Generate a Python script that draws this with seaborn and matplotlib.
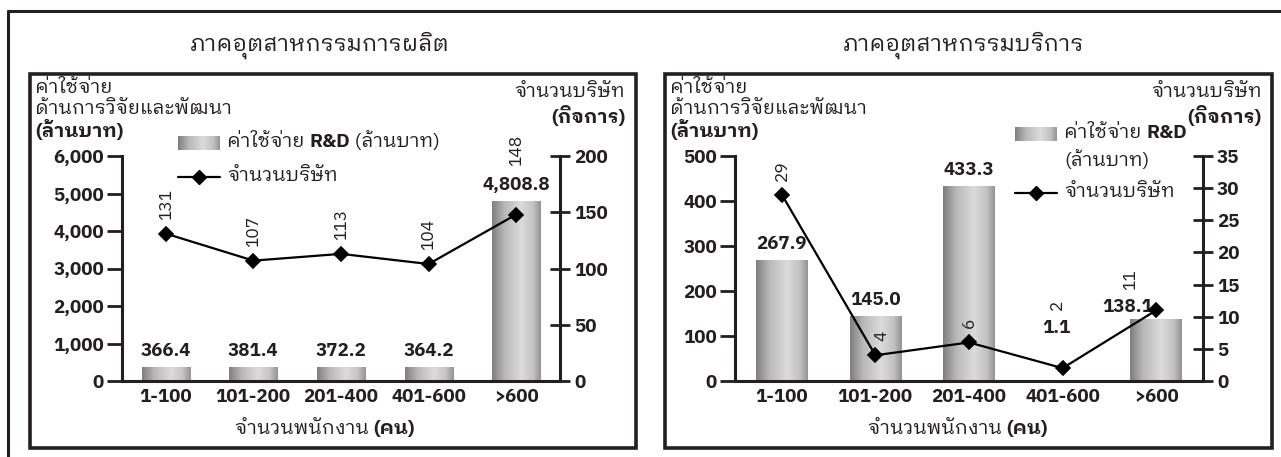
import numpy as np
import matplotlib
matplotlib.use("Agg")
import matplotlib.pyplot as plt
import seaborn as sns
from matplotlib.patches import Rectangle
from matplotlib.lines import Line2D

# ---- data ----
groups = ["1-100", "101-200", "201-400", "401-600", ">600"]
mfg_rd = [366.4, 381.4, 372.2, 364.2, 4808.8]
mfg_firms = [131, 107, 113, 104, 148]
svc_rd = [267.9, 145.0, 433.3, 1.1, 138.1]
svc_firms = [29, 4, 6, 2, 11]

mfg_title = "ภาคอุตสาหกรรมการผลิต"
svc_title = "ภาคอุตสาหกรรมบริการ"
xlabel = "จำนวนพนักงาน"
xlabel_unit = "(คน)"
ylabel_lines = ["ค่าใช้จ่าย", "ด้านการวิจัยและพัฒนา"]
ylabel_unit = "(ล้านบาท)"
y2label = "จำนวนบริษัท"
y2label_unit = "(กิจการ)"
legend_bar = "ค่าใช้จ่าย"
legend_line = "จำนวนบริษัท"

sns.set_style("white")
plt.rcParams["font.family"] = ["IBM Plex Sans Thai Looped", "DejaVu Sans"]
INK = "#231f20"

W, H = 1281, 457
fig = plt.figure(figsize=(W / 100, H / 100), dpi=100)

# overlay axes in pixel coords for frames and free text
bg = fig.add_axes([0, 0, 1, 1])
bg.set_xlim(0, W)
bg.set_ylim(H, 0)
bg.axis("off")

# outer frame (top and left edges only)
bg.plot([8, W], [11, 11], color=INK, lw=2.2)
bg.plot([8, 8], [11, H], color=INK, lw=2.2)
for x0, x1 in [(30, 636), (665, 1272)]:
    bg.add_patch(Rectangle((x0, 74), x1 - x0, 374, fill=False, ec=INK, lw=2.6))

GRAD = np.interp(np.linspace(0, 1, 64), [0, 0.25, 0.6, 0.85, 1],
                 [0.50, 0.72, 0.86, 0.76, 0.58])[None, :]


def px_axes(x0, x1, ytop, ybot):
    return fig.add_axes([x0 / W, 1 - ybot / H, (x1 - x0) / W, (ybot - ytop) / H])


def grad_bars(ax):
    for p in list(ax.patches):
        x0, y0, w, h = p.get_x(), p.get_y(), p.get_width(), p.get_height()
        im = ax.imshow(GRAD, extent=(x0, x0 + w, y0, y0 + h), cmap="gray", vmin=0,
                       vmax=1, aspect="auto", zorder=p.get_zorder() + 0.1,
                       interpolation="bicubic")
        im.set_clip_path(p)


def panel(x0, x1, rd, firms, ymax1, ystep1, ymax2, ystep2, firm_off, rd_off):
    ax = px_axes(x0, x1, 156, 381)
    sns.barplot(x=groups, y=rd, ax=ax, color="#b4b4b4", width=0.55, saturation=1,
                edgecolor="none")
    grad_bars(ax)
    ax.set_ylim(0, ymax1)
    ax.set_xlim(-0.5, 4.5)
    ticks = np.arange(0, ymax1 + 1, ystep1)
    ax.set_yticks(ticks)
    ax.set_yticklabels([f"{v:,.0f}" for v in ticks])
    ax.set_xticks(range(5))
    ax.set_xticklabels(groups)
    ax.set_xticks(np.arange(-0.5, 5, 1), minor=True)
    ax.tick_params(axis="x", which="major", length=0, pad=5, labelsize=13.5)
    ax.tick_params(axis="x", which="minor", length=10, width=2, color=INK, direction="out")
    ax.tick_params(axis="y", length=11, width=2, color=INK, direction="out",
                   labelsize=13.5, pad=2)
    for lab in ax.get_xticklabels() + ax.get_yticklabels():
        lab.set_fontweight("bold")
        lab.set_color(INK)
    ax.set_xlabel("")
    ax.set_ylabel("")
    for s in ["top", "right"]:
        ax.spines[s].set_visible(False)
    for s in ["left", "bottom"]:
        ax.spines[s].set_color(INK)
        ax.spines[s].set_linewidth(2.2)
    ax.patch.set_alpha(0)

    for i, v in enumerate(rd):
        dx, dy = rd_off.get(i, (0, 7))
        ax.annotate(f"{v:,.1f}", (i, v), xytext=(dx, dy), textcoords="offset pixels",
                    ha="center", va="bottom", fontsize=13.5, fontweight="bold", color=INK)

    ax2 = ax.twinx()
    sns.pointplot(x=groups, y=firms, ax=ax2, color="black", marker="D",
                  markersize=7, linewidth=1.6)
    ax2.set_ylim(0, ymax2)
    ax2.set_xlim(-0.5, 4.5)
    ax2.set_yticks(np.arange(0, ymax2 + 1, ystep2))
    ax2.tick_params(axis="y", length=14, width=2, color=INK, direction="inout",
                    labelsize=13.5, pad=3)
    for lab in ax2.get_yticklabels():
        lab.set_fontweight("bold")
        lab.set_color(INK)
    ax2.set_ylabel("")
    for s in ["top", "left", "bottom"]:
        ax2.spines[s].set_visible(False)
    ax2.spines["right"].set_color(INK)
    ax2.spines["right"].set_linewidth(2.2)
    for i, v in enumerate(firms):
        dx, dy = firm_off.get(i, (0, 14))
        ax2.annotate(str(v), (i, v), xytext=(dx, dy), textcoords="offset pixels",
                     ha="center", va="bottom", rotation=90, fontsize=12.5,
                     fontweight="normal", color=INK)
    return ax, ax2


panel(122, 560, mfg_rd, mfg_firms, 6000, 1000, 200, 50,
      {4: (0, 48)}, {})
panel(735, 1203, svc_rd, svc_firms, 500, 100, 35, 5,
      {1: (6, 14), 3: (-6, 58), 4: (-26, 20)}, {3: (-6, 44), 4: (-28, 3)})


def chain(parts, x, y, size):
    t = bg.text(x, y, parts[0][0], fontsize=size, fontweight=parts[0][1],
                va="center", ha="left", color=INK)
    for s, w in parts[1:]:
        t = bg.annotate(s, xy=(1, 0), xycoords=t, va="bottom", ha="left",
                        fontsize=size, fontweight=w, color=INK)
    return t


# titles
for cx, title in [(320, mfg_title), (964, svc_title)]:
    bg.text(cx, 45, title, fontsize=16.5, ha="center", va="center", color=INK)

for x0 in [235, 868]:
    chain([(xlabel + " ", "normal"), (xlabel_unit, "bold")], x0, 429, 14)

# axis titles
for x0, x2 in [(35, 625), (670, 1262)]:
    bg.text(x0, 88, ylabel_lines[0], fontsize=14, va="center", color=INK)
    bg.text(x0, 109, ylabel_lines[1], fontsize=14, va="center", color=INK)
    bg.text(x0, 131, ylabel_unit, fontsize=14, va="center", fontweight="bold", color=INK)
    bg.text(x2, 92, y2label, fontsize=14, va="center", ha="right", color=INK)
    bg.text(x2, 116, y2label_unit, fontsize=14, va="center", ha="right",
            fontweight="bold", color=INK)


def legend_patch(x, y):
    bg.imshow(GRAD, extent=(x, x + 42, y + 7, y - 7), cmap="gray", vmin=0, vmax=1,
              aspect="auto", interpolation="bicubic")
    bg.set_xlim(0, W)
    bg.set_ylim(H, 0)


def legend_marker(x, y):
    bg.add_line(Line2D([x, x + 42], [y, y], color="black", lw=1.6))
    bg.plot([x + 21], [y], marker="D", color="black", ms=7)


# left legend
legend_patch(178, 143)
chain([(legend_bar + " ", "normal"), ("R&D", "bold"), (" " + ylabel_unit, "normal")],
      227, 142, 14)
legend_marker(178, 177)
bg.text(227, 176, legend_line, fontsize=14, va="center", color=INK)

# right legend
legend_patch(1015, 134)
chain([(legend_bar + " ", "normal"), ("R&D", "bold")], 1064, 133, 14)
bg.text(1064, 160, ylabel_unit, fontsize=14, va="center", color=INK)
legend_marker(1015, 193)
bg.text(1064, 192, legend_line, fontsize=14, va="center", color=INK)

fig.savefig("out.png", dpi=100)
